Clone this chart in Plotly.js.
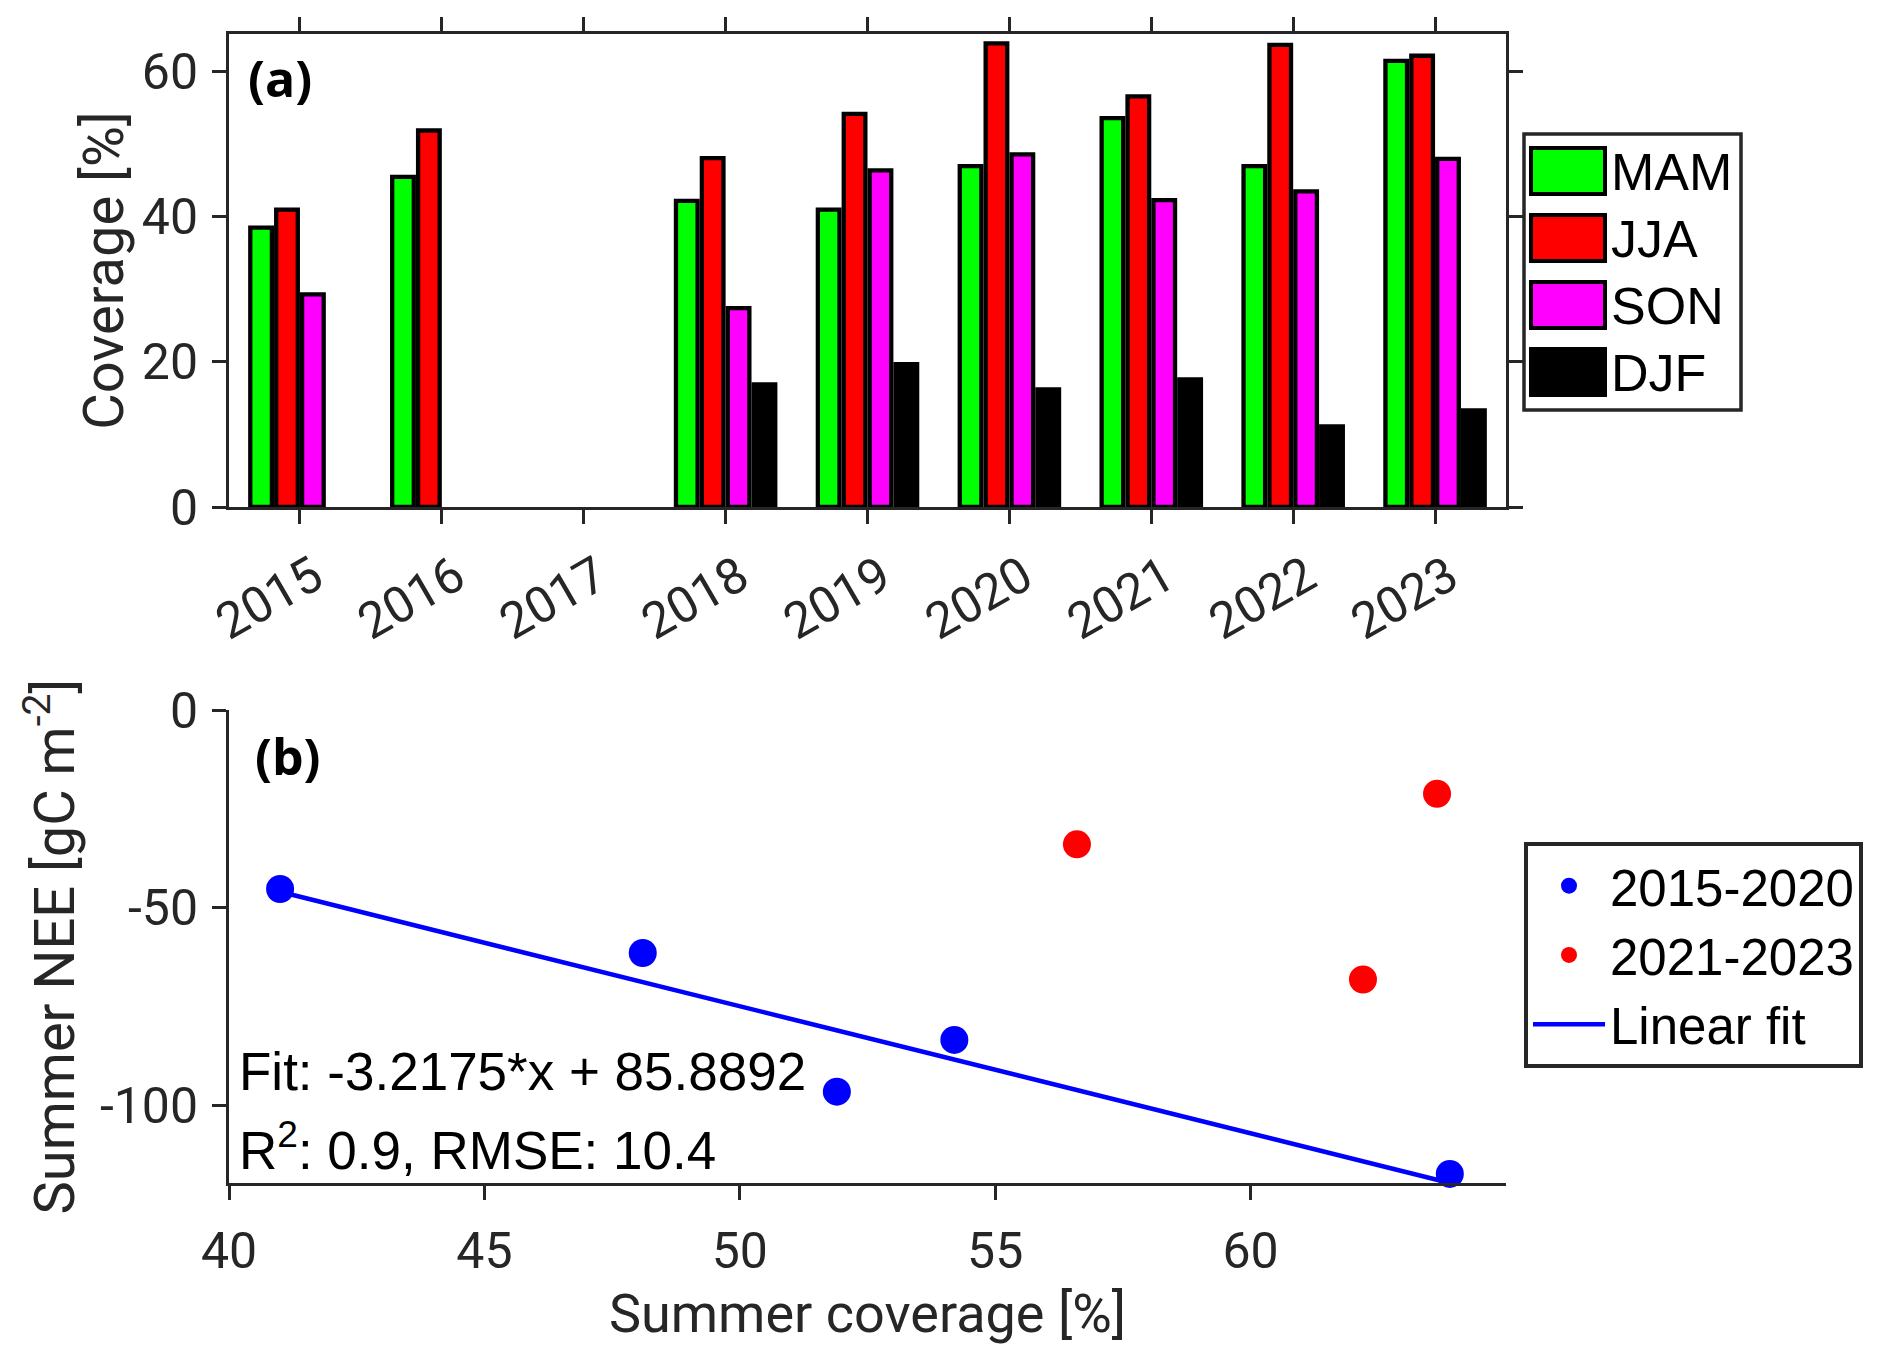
<!DOCTYPE html>
<html>
<head>
<meta charset="utf-8">
<script src="https://cdn.plot.ly/plotly-3.0.1.min.js"></script>
<style>
  html, body { margin: 0; padding: 0; background: #fff; }
  #chart { width: 1892px; height: 1365px; }
</style>
</head>
<body>
<div id="chart"></div>
<script>
// (a) seasonal coverage per year
var years = ['2015', '2016', '2017', '2018', '2019', '2020', '2021', '2022', '2023'];
var mam = [38.5, 45.5, null, 42.2, 41.0, 47.0, 53.6, 47.0, 61.5];
var jja = [41.0, 51.9, null, 48.1, 54.2, 63.9, 56.6, 63.7, 62.2];
var son = [29.3, null, null, 27.4, 46.4, 48.6, 42.3, 43.5, 48.0];
var djf = [null, null, null, 16.9, 19.7, 16.2, 17.6, 11.1, 13.3];
var seasons = ['MAM', 'JJA', 'SON', 'DJF'];
var seasonColors = ['#00ff00', '#ff0000', '#ff00ff', '#000000'];
var coverageTicks = [0, 20, 40, 60];

// (b) summer coverage vs summer NEE
var earlyCov = [41.0, 48.1, 51.9, 54.2, 63.9];
var earlyNee = [-45.3, -61.5, -96.6, -83.5, -117.4];
var lateCov = [56.6, 63.65, 62.2];
var lateNee = [-34.0, -21.2, -68.2];
var fitCov = [41.0, 63.9];
var fitNee = [-46.0, -119.7];
var covTicks = [40, 45, 50, 55, 60];
var neeTicks = [-100, -50, 0];
var neeTickText = ['-100', '-50', '0'];

var W = 1892, H = 1365;
function px(x) { return x / W; }
function py(y) { return 1 - y / H; }

var axisColor = '#262626';
var tickFont = { family: 'Roboto, Arial, sans-serif', size: 50, color: axisColor };
var titleFont = { family: 'Roboto, Arial, sans-serif', size: 56, color: axisColor };
var xTitleFont = { family: 'Roboto, Arial, sans-serif', size: 54, color: axisColor };
var textFont = { family: 'Liberation Sans, Arial, sans-serif', size: 53, color: '#000' };
var tagFont = { family: 'Open Sans, sans-serif', size: 50, color: '#000', weight: 'bold' };

var seriesList = [mam, jja, son, djf];
var data = seasons.map(function (s, i) {
  return {
    type: 'bar', name: s, x: years, y: seriesList[i],
    xaxis: 'x', yaxis: 'y', showlegend: false,
    marker: { color: seasonColors[i], line: { color: '#000', width: 4.3 } }
  };
});

data.push({
  type: 'scatter', mode: 'lines', name: 'Linear fit', x: fitCov, y: fitNee,
  xaxis: 'x2', yaxis: 'y2', legendrank: 3, cliponaxis: false,
  line: { color: '#0000ff', width: 4.6 }
});
data.push({
  type: 'scatter', mode: 'markers', name: '2015-2020', x: earlyCov, y: earlyNee,
  xaxis: 'x2', yaxis: 'y2', legendrank: 1, cliponaxis: false,
  marker: { color: '#0000ff', size: 28 }
});
data.push({
  type: 'scatter', mode: 'markers', name: '2021-2023', x: lateCov, y: lateNee,
  xaxis: 'x2', yaxis: 'y2', legendrank: 2, cliponaxis: false,
  marker: { color: '#ff0000', size: 28 }
});

function baseAxis(extra) {
  var a = {
    showgrid: false, zeroline: false, showline: true,
    linecolor: axisColor, linewidth: 3,
    ticks: 'outside', ticklen: 14, tickwidth: 3, tickcolor: axisColor,
    tickfont: tickFont, fixedrange: true
  };
  for (var k in extra) a[k] = extra[k];
  return a;
}

// hand-made legend for panel (a), big swatches like the original
var shapes = [{
  type: 'rect', xref: 'paper', yref: 'paper',
  x0: px(1524), x1: px(1741), y0: py(410), y1: py(134),
  line: { color: axisColor, width: 3.5 }, fillcolor: '#fff', layer: 'above'
}];
var annotations = [];
seasons.forEach(function (s, i) {
  var top = 148 + i * 67;
  shapes.push({
    type: 'rect', xref: 'paper', yref: 'paper',
    x0: px(1531), x1: px(1605), y0: py(top + 46), y1: py(top),
    line: { color: '#000', width: 4 }, fillcolor: seasonColors[i], layer: 'above'
  });
  annotations.push({
    xref: 'paper', yref: 'paper', x: px(1609), y: py(top + 24),
    xanchor: 'left', yanchor: 'middle', showarrow: false,
    text: s, font: { family: 'Liberation Sans, Arial, sans-serif', size: 52, color: '#000' }
  });
});

annotations.push({
  xref: 'paper', yref: 'paper', x: px(246), y: py(78), xanchor: 'left', yanchor: 'middle',
  showarrow: false, text: '(a)', font: tagFont
});
annotations.push({
  xref: 'paper', yref: 'paper', x: px(253), y: py(756), xanchor: 'left', yanchor: 'middle',
  showarrow: false, text: '(b)', font: tagFont
});
annotations.push({
  xref: 'paper', yref: 'paper', x: px(237), y: py(1071), xanchor: 'left', yanchor: 'middle',
  showarrow: false, text: 'Fit: -3.2175*x + 85.8892', font: textFont
});
annotations.push({
  xref: 'paper', yref: 'paper', x: px(237), y: py(1146), xanchor: 'left', yanchor: 'middle',
  showarrow: false, text: 'R<sup>2</sup>: 0.9, RMSE: 10.4', font: textFont
});

var layout = {
  width: W, height: H,
  margin: { l: 0, r: 0, t: 0, b: 0 },
  paper_bgcolor: '#fff', plot_bgcolor: 'rgba(0,0,0,0)',
  barmode: 'group', bargap: 0.27, bargroupgap: 0.166,
  showlegend: true,
  legend: {
    x: px(1524), y: py(842), xanchor: 'left', yanchor: 'top',
    bgcolor: '#fff', bordercolor: axisColor, borderwidth: 4,
    font: { family: 'Liberation Sans, Arial, sans-serif', size: 51, color: '#000' },
    itemwidth: 72, traceorder: 'normal'
  },
  xaxis: baseAxis({
    domain: [px(229), px(1506)], anchor: 'y', type: 'category',
    range: [-0.5, 8.5], mirror: 'allticks', tickangle: -30,
    ticklabelstandoff: 4, ticklabelshift: 14
  }),
  yaxis: baseAxis({
    domain: [py(507), py(34)], anchor: 'x', range: [0, 65.2],
    tickvals: coverageTicks, mirror: 'allticks', ticklabelstandoff: 4,
    title: { text: 'Coverage [%]', font: titleFont, standoff: 1 }
  }),
  xaxis2: baseAxis({
    domain: [px(229), px(1506)], anchor: 'y2', range: [40, 65],
    tickvals: covTicks, ticklabelstandoff: 8,
    title: { text: 'Summer coverage [%]', font: xTitleFont, standoff: 16 }
  }),
  yaxis2: baseAxis({
    domain: [py(1183), py(710)], anchor: 'x2', range: [-119.7, 0],
    tickvals: neeTicks, ticktext: neeTickText, ticklabelstandoff: 4,
    title: { text: 'Summer NEE [gC m<sup>-2</sup>]', font: titleFont, standoff: 8 }
  }),
  shapes: shapes,
  annotations: annotations
};

Plotly.newPlot('chart', data, layout, { staticPlot: true });
</script>
</body>
</html>
